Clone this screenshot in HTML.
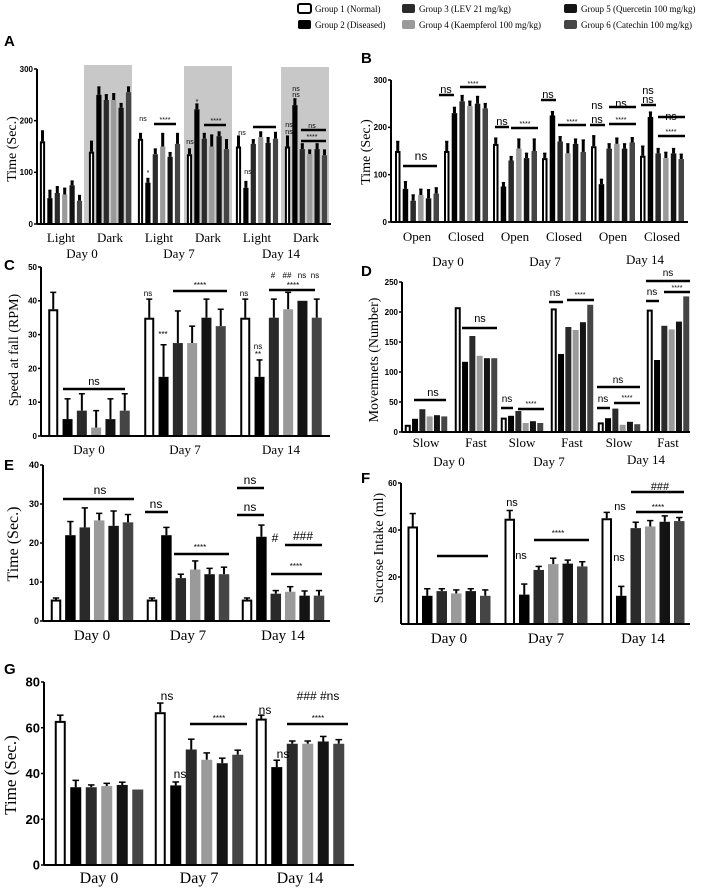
<!DOCTYPE html>
<html><head><meta charset="utf-8"><style>
body{margin:0;background:#fff;width:708px;height:888px;overflow:hidden}
svg{display:block}
.tk{font-family:"Liberation Sans",sans-serif;font-weight:bold}
.ser{font-family:"Liberation Serif",serif}
.pl{font:bold 15px "Liberation Sans",sans-serif}
.an{font-family:"Liberation Sans",sans-serif}
</style></head><body>
<svg id="fig" width="708" height="888" viewBox="0 0 708 888"></svg>
<script>
const groupNames=["Group 1 (Normal)","Group 2 (Diseased)","Group 3 (LEV 21 mg/kg)","Group 4 (Kaempferol 100 mg/kg)","Group 5 (Quercetin 100 mg/kg)","Group 6 (Catechin 100 mg/kg)"];
const colors=["#fff","#000","#2a2a2a","#9a9a9a","#141414","#454545"];
// Panel data arrays
const aCats=["Light","Dark","Light","Dark","Light","Dark"];
const aVals=[[160,50,60,57,75,45],[140,250,240,240,225,255],[165,80,135,150,130,155],[135,222,165,150,170,145],[150,70,155,168,157,165],[150,230,145,135,145,133]];
const aErr=[[20,15,12,12,8,10],[20,15,10,12,8,10],[10,8,10,25,8,20],[10,10,10,22,8,18],[20,12,8,10,10,12],[20,12,10,8,10,10]];
const aTicks=[0,100,200,300];
const bCats=["Open","Closed","Open","Closed","Open","Closed"];
const bVals=[[150,70,45,57,50,60],[150,230,255,245,250,240],[165,75,130,155,135,150],[135,225,170,145,165,148],[160,80,155,165,155,168],[140,222,145,135,145,133]];
const bErr=[[20,15,12,12,18,12],[20,12,12,10,15,10],[12,8,8,20,10,25],[10,8,10,20,10,25],[22,10,10,12,10,10],[20,10,10,12,10,10]];
const bTicks=[0,100,200,300];
const cCats=["Day 0","Day 7","Day 14"];
const cVals=[[37.5,5,7.5,2.5,5,7.5],[35,17.5,27.5,27.5,35,32.5],[35,17.5,35,37.5,40,35]];
const cErr=[[5,6,5,5,6,5],[5.5,9.5,9.5,5,5.5,5],[5.5,5,5.5,5,0,5.5]];
const cTicks=[0,10,20,30,40,50];
const dCats=["Slow","Fast","Slow","Fast","Slow","Fast"];
const dVals=[[12,22,38,26,28,26],[208,117,160,127,123,123],[24,27,35,15,18,15],[206,130,175,170,183,212],[16,23,39,12,17,13],[204,120,177,171,184,226]];
const dTicks=[0,50,100,150,200,250];
const eCats=["Day 0","Day 7","Day 14"];
const eVals=[[5.5,22,24,25.8,24.4,25.3],[5.5,22,11,13.2,12,12],[5.5,21.6,7,7.5,6.5,6.5]];
const eErr=[[0.4,3.5,5,1.8,3.8,2],[0.4,2,1,2.2,1.5,1.8],[0.4,3,0.8,1.3,1.2,1.3]];
const eTicks=[0,10,20,30,40];
const fCats=["Day 0","Day 7","Day 14"];
const fVals=[[41.5,12,14,13,14,12],[44.8,12.5,23,25.5,25.7,24.5],[45,12,40.8,41.5,43.5,43.8]];
const fErr=[[5.5,3,1,1.5,1,2.5],[3.5,4.5,1.5,2.5,1.5,2],[2.5,4,2.5,2.5,2.5,1.5]];
const fTicks=[20,40,60];
const gCats=["Day 0","Day 7","Day 14"];
const gVals=[[63,34,34,34.5,35,33],[66.8,34.8,50.5,46,44.5,48.2],[64,42.8,53,53,54,53]];
const gErr=[[2.5,3,1,1.2,1.2,0],[4,1.5,4.5,3,2.2,2],[1.5,3,1.2,1.2,2.2,1.8]];
const gTicks=[0,20,40,60,80];

const NS="http://www.w3.org/2000/svg";
const svg=document.getElementById("fig");
function el(t,a,txt,parent){const e=document.createElementNS(NS,t);for(const k in a)e.setAttribute(k,a[k]);if(txt!==undefined)e.textContent=txt;(parent||svg).appendChild(e);return e;}

function panel(p){
  const g=el("g",{});
  
  
  const yv=v=>p.y0-(v-p.tmin)*(p.y0-p.ytop)/(p.tmax-p.tmin);
  (p.bands||[]).forEach(b=>{const r=el("rect",{x:b[0],y:b[1],width:b[2]-b[0],height:p.y0-b[1],fill:"#c8c8c8"},undefined,g);
    });
  p.vals.forEach((cl,ci)=>{
    const c=p.centers[ci];
    cl.forEach((v,i)=>{
      const x=c+(i-2.5)*p.step-p.w/2, y=yv(v);
      if(p.err){const e=p.err[ci][i];if(e>0){
        const t=el("line",{x1:x+p.w/2,x2:x+p.w/2,y1:y,y2:yv(v+e),stroke:"#000","stroke-width":p.ew||2},undefined,g);
        
        el("line",{x1:x+p.w/2-p.w*0.3,x2:x+p.w/2+p.w*0.3,y1:yv(v+e),y2:yv(v+e),stroke:"#000","stroke-width":1.5},undefined,g);}}
      const r=el("rect",{x:i==0?x+1:x,y:i==0?y+1:y,width:i==0?p.w-2:p.w,height:Math.max(0,p.y0-y-(i==0?1:0)),fill:colors[i],stroke:i==0?"#000":"none","stroke-width":i==0?2:0},undefined,g);
      
      
    });
    const lt=el("text",{x:c,y:p.catY,"text-anchor":"middle",class:"ser",style:"font-size:"+(p.catF||13)+"px"},p.cats[ci],g);
    
  });
  el("line",{x1:p.x0,x2:p.x0,y1:p.y0,y2:p.ytop,stroke:"#000","stroke-width":2},undefined,g);
  el("line",{x1:p.x0,x2:p.x1,y1:p.y0,y2:p.y0,stroke:"#000","stroke-width":2},undefined,g);
  p.ticks.forEach(t=>{const y=yv(t);el("line",{x1:p.x0-3,x2:p.x0,y1:y,y2:y,stroke:"#000","stroke-width":1.5},undefined,g);
    const f=p.tf||8;
    const tt=el("text",{x:p.x0-4,y:y+f*0.36,"text-anchor":"end",class:"tk",style:"font-size:"+f+"px"},t,g);
    });
  (p.days||[]).forEach(d=>{const t=el("text",{x:d[0],y:d[1],"text-anchor":"middle",class:"ser",style:"font-size:13px"},d[2],g);
    });
  const yt=el("text",{transform:`translate(${p.ytx},${p.yty}) rotate(-90)`,"text-anchor":"middle",class:"ser",style:"font-size:"+(p.ytf||14)+"px"},p.ytitle,g);
  
  const pl=el("text",{x:p.lx,y:p.ly,class:"pl"},p.letter,g);
  
  (p.lines||[]).forEach(l=>{const s=el("line",{x1:l[0],x2:l[1],y1:l[2],y2:l[2],stroke:"#000","stroke-width":2.5},undefined,g);
    });
  (p.texts||[]).forEach(t=>{const s=el("text",{x:t[0],y:t[1],"text-anchor":"middle",class:"an",style:"font-size:"+(t[3]||9)+"px"},t[2],g);
    });
}

panel({name:"panel-a",letter:"A",lx:4,ly:46,cats:aCats,vals:aVals,err:aErr,ticks:aTicks,tmin:0,tmax:300,x0:37,x1:331,y0:224,ytop:69,
  centers:[61,110,159,208,257,306],step:7.4,w:5.2,ew:3,catY:242,catF:13,
  bands:[[84,65,132],[184,66,232],[281,67,329]],
  days:[[82,258,"Day 0"],[179,258,"Day 7"],[281,258,"Day 14"]],ytitle:"Time (Sec.)",ytx:16,yty:149,
  lines:[[154,176,124],[204,226,125],[253,276,127],[301,326,130],[301,326,141]],
  texts:[[143,121,"ns",7],[148,175,"*",7],[165,122,"****",7],[197,104,"*",7],[216,123,"****",7],[190,144,"ns",7],[242,135,"ns",7],[312,128,"ns",7],[312,139,"****",7],[289,127,"ns",7],[289,134,"ns",7],[296,91,"ns",7],[296,97,"ns",7],[248,174,"ns",7]]});
panel({name:"panel-b",letter:"B",lx:361,ly:63,cats:bCats,vals:bVals,err:bErr,ticks:bTicks,tmin:0,tmax:300,x0:391,x1:688,y0:222,ytop:80,
  centers:[417,466,515,564,613,662],step:7.7,w:5.5,ew:3,catY:241,
  days:[[448,266,"Day 0"],[545,266,"Day 7"],[645,264,"Day 14"]],ytitle:"Time (Sec.)",ytx:370,yty:152,
  lines:[[403,437,166],[439,454,95],[460,486,87],[495,509,127],[511,538,128],[541,556,100],[558,586,125],[590,605,125],[609,636,124],[609,636,107],[641,656,105],[658,685,136],[658,685,117]],
  texts:[[421,160,"ns",12],[446,93,"ns",11],[473,86,"****",7],[502,125,"ns",11],[525,126,"****",7],[548,98,"ns",11],[572,124,"****",7],[597,123,"ns",11],[597,109,"ns",11],[621,122,"****",7],[621,107,"ns",11],[648,103,"ns",11],[648,94,"ns",11],[671,134,"****",7],[671,120,"ns",11]]});
panel({name:"panel-c",letter:"C",lx:4,ly:270,cats:cCats,vals:cVals,err:cErr,ticks:cTicks,tmin:0,tmax:50,x0:41,x1:330,y0:436,ytop:267,
  centers:[89,185,281],step:14.3,w:10,catY:454,
  ytitle:"Speed at fall (RPM)",ytx:18,yty:350,
  lines:[[63,125,389],[173,227,291],[269,315,290]],
  texts:[[94,385,"ns",11],[148,296,"ns",8],[163,337,"***",8],[200,288,"****",8],[244,296,"ns",8],[258,349,"ns",8],[258,357,"**",8],[273,278,"#",8],[287,278,"##",8],[302,278,"ns",8],[315,278,"ns",8],[293,288,"****",8]]});
panel({name:"panel-d",letter:"D",lx:361,ly:276,cats:dCats,vals:dVals,ticks:dTicks,tmin:0,tmax:250,x0:402,x1:690,y0:432,ytop:282,
  centers:[426,476,522,572,619,668],step:7.3,w:6,catY:447,
  days:[[449,466,"Day 0"],[549,466,"Day 7"],[646,464,"Day 14"]],ytitle:"Movemnets (Number)",ytx:378,yty:360,
  lines:[[414,446,400],[462,497,328],[501,513,408],[518,544,409],[549,563,302],[567,594,300],[597,610,408],[614,640,403],[597,640,387],[646,659,301],[664,690,292],[646,690,281]],
  texts:[[433,396,"ns",11],[480,322,"ns",11],[507,402,"ns",10],[531,406,"****",7],[555,296,"ns",10],[580,297,"****",7],[603,402,"ns",10],[627,400,"****",7],[618,383,"ns",10],[652,295,"ns",10],[677,290,"****",7],[668,276,"ns",10]]});
panel({name:"panel-e",letter:"E",lx:4,ly:470,cats:eCats,vals:eVals,err:eErr,ticks:eTicks,tmin:0,tmax:40,x0:43,x1:330,y0:621,ytop:465,
  centers:[92,188,283],step:14.4,w:10.5,catY:640,catF:15,tf:9,
  ytitle:"Time (Sec.)",ytx:18,yty:544,ytf:16,
  lines:[[63,134,499],[145,168,512],[174,229,554],[237,264,488],[237,264,515],[285,322,545],[271,322,574]],
  texts:[[100,494,"ns",12],[156,508,"ns",12],[200,550,"****",8],[250,484,"ns",12],[250,511,"ns",12],[275,542,"#",12],[303,540,"###",12],[296,569,"****",8]]});
panel({name:"panel-f",letter:"F",lx:361,ly:483,cats:fCats,vals:fVals,err:fErr,ticks:fTicks,tmin:0,tmax:60,x0:401,x1:690,y0:624,ytop:483,
  centers:[449,546,643],step:14.5,w:10.5,catY:643,catF:15,
  ytitle:"Sucrose Intake (ml)",ytx:383,yty:548,
  lines:[[437,488,556],[534,589,540],[636,683,512],[631,684,492]],
  texts:[[512,506,"ns",11],[521,559,"ns",11],[620,510,"ns",11],[619,561,"ns",11],[558,536,"****",8],[658,510,"****",8],[660,490,"###",11]]});
panel({name:"panel-g",letter:"G",lx:4,ly:674,cats:gCats,vals:gVals,err:gErr,ticks:gTicks,tmin:0,tmax:80,x0:44,x1:354,y0:865,ytop:682,
  centers:[99,199,300],step:15.5,w:11,catY:883,catF:16,tf:13,
  ytitle:"Time (Sec.)",ytx:16,yty:775,ytf:17,
  lines:[[190,247,724],[287,348,724]],
  texts:[[167,700,"ns",12],[180,778,"ns",12],[265,714,"ns",12],[283,758,"ns",12],[219,721,"****",8],[318,721,"****",8],[318,700,"### #ns",12]]});

// Legend
const legPos=[[297,9],[297,25],[401,9],[401,25],[563,9],[563,25]];
groupNames.forEach((n,i)=>{
  const g=el("g",{});
  
  
  el("rect",{x:legPos[i][0]+1,y:legPos[i][1]-5,width:13,height:9,rx:2,fill:colors[i],stroke:i==0?"#000":"none","stroke-width":2},undefined,g);
  el("text",{x:legPos[i][0]+18,y:legPos[i][1]+3,class:"ser",style:"font-size:9px"},n,g);
});
</script>
</body></html>
